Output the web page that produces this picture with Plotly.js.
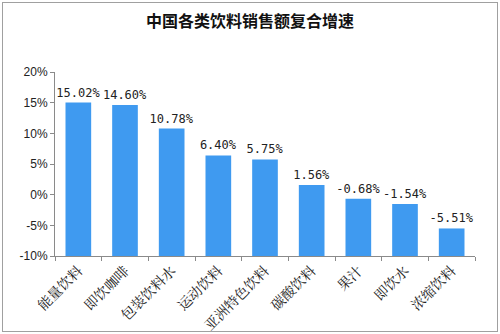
<!DOCTYPE html>
<html><head><meta charset="utf-8">
<script src="https://cdn.plot.ly/plotly-3.0.1.min.js"></script>
<style>body{margin:0;}#wrap{position:relative;width:500px;height:334px;}#chart{width:500px;height:334px;}#frame{position:absolute;left:2px;top:2px;width:494px;height:328px;border:1px solid #a0a0a0;pointer-events:none;}</style>
</head><body>
<div id="wrap"><div id="chart"></div><div id="frame"></div></div>
<script>
const categories = ["能量饮料","即饮咖啡","包装饮料水","运动饮料","亚洲特色饮料","碳酸饮料","果汁","即饮水","浓缩饮料"];
const growth = [15.02, 14.60, 10.78, 6.40, 5.75, 1.56, -0.68, -1.54, -5.51];
const yTickVals = [-10, -5, 0, 5, 10, 15, 20];
const yTickText = ["-10%","-5%","0%","5%","10%","15%","20%"];
const axisFloor = -10;

const trace = {
  type: 'bar',
  x: categories,
  y: growth.map(v => v - axisFloor),
  base: axisFloor,
  text: growth.map(v => v.toFixed(2) + '%'),
  textposition: 'outside',
  constraintext: 'none',
  cliponaxis: false,
  textfont: {family: '"DejaVu Sans Mono", monospace', size: 12, color: '#222'},
  marker: {color: '#3f9af0'},
  hoverinfo: 'none'
};

const layout = {
  width: 500, height: 334,
  margin: {l: 55, r: 25, t: 72, b: 78},
  paper_bgcolor: 'rgba(0,0,0,0)', plot_bgcolor: 'rgba(0,0,0,0)',
  title: {text: '<b>中国各类饮料销售额复合增速</b>', font: {family: '"Noto Sans CJK SC", sans-serif', size: 16, color: '#111'}, x: 0.5, xanchor: 'center', y: 0.935, yanchor: 'middle'},
  bargap: 0.45,
  showlegend: false,
  xaxis: {
    type: 'category', showline: true, linecolor: '#8a8a8a', linewidth: 1,
    ticks: 'outside', tickson: 'boundaries', ticklen: 4, tickcolor: '#8a8a8a',
    tickangle: -45, showgrid: false,
    tickfont: {family: '"Noto Serif CJK SC", "Noto Sans CJK SC", serif', size: 14, color: '#222'}
  },
  yaxis: {
    range: [-10, 20], tickvals: yTickVals, ticktext: yTickText,
    showline: true, linecolor: '#8a8a8a', linewidth: 1,
    ticks: 'outside', ticklen: 4, tickcolor: '#8a8a8a',
    showgrid: false, zeroline: false,
    tickfont: {family: 'Arial, "Liberation Sans", sans-serif', size: 12, color: '#222'}
  }
};

Plotly.newPlot('chart', [trace], layout, {displayModeBar: false, staticPlot: true});
</script>
</body></html>
